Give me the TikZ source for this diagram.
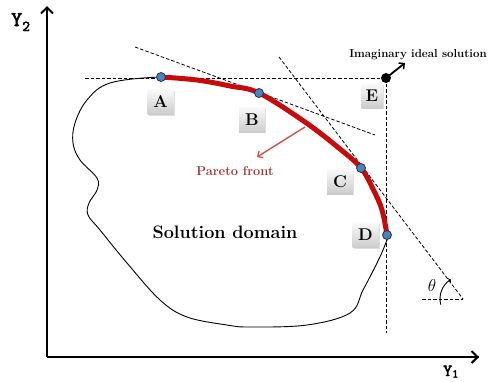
\documentclass[tikz,border=0pt]{standalone}
\usepackage{fontspec}
\newfontfamily\axisfont{lmmono10-regular.otf}[FakeBold=2.5]
\usetikzlibrary{arrows.meta,shadows}
\definecolor{frontred}{RGB}{200,10,10}
\definecolor{paretored}{RGB}{170,50,50}
\definecolor{arrowred}{RGB}{210,80,80}
\definecolor{dotfill}{RGB}{79,129,189}
\definecolor{dotdraw}{RGB}{30,50,90}
\begin{document}
\begin{tikzpicture}[x=1pt,y=-1pt,
  axisline/.style={line width=2.2pt,-{Straight Barb[length=6pt,width=12pt,line width=2pt]}},
  guideline/.style={line width=0.8pt,dash pattern=on 3.5pt off 2pt},
  ptdot/.style={circle,draw=dotdraw,fill=dotfill,line width=0.8pt,minimum size=9pt,inner sep=0pt},
  lbl/.style={font=\fontsize{17}{17}\selectfont\bfseries,top color=gray!4,bottom color=gray!40,
    minimum width=26pt,minimum height=25pt,inner sep=0pt,
    drop shadow={shadow xshift=1pt,shadow yshift=-1.2pt,opacity=0.25}},
  boldtext/.style={font=\bfseries,inner sep=0pt}
]
\useasboundingbox (0,0) rectangle (489,381);

% axes
\coordinate (O) at (47,357);
\coordinate (Ytop) at (47,6);
\coordinate (Xend) at (479,357);
\draw[line width=2.2pt] (O) -- (Xend);
\draw[axisline] (O) -- (Ytop);
\draw[axisline] (O) -- (Xend);
\node[anchor=base west,inner sep=0pt] (ylab) at (11,26) {\axisfont\fontsize{21}{21}\selectfont Y\raisebox{-5pt}{\fontsize{15}{15}\selectfont 2}};
\node[anchor=base west,inner sep=0pt] (xlab) at (443,376) {\axisfont\fontsize{17}{17}\selectfont Y\raisebox{-1.5pt}{\fontsize{12}{12}\selectfont 1}};

% domain boundary
\draw[line width=0.9pt] plot[smooth cycle,tension=0.6] coordinates {
 (161,77) (197,80) (230,86) (259,93) (305,122) (340,149) (361,168) (373,189) (382,210) (387,235)
 (385,245) (377,263) (363,290) (350,313) (307,325) (250,327) (227,325) (187,317) (160,300)
 (127,263) (100,230) (88,215) (89,203) (97,190) (97,178) (80,160) (73,143) (75,123) (87,100) (110,83)};

% key points
\coordinate (A) at (161,77);
\coordinate (B) at (259,93);
\coordinate (C) at (361,168);
\coordinate (D) at (387,235);
\coordinate (E) at (386,78);

% guide lines
\coordinate (Hleft) at (85,78);
\coordinate (Vbot) at (386,333);
\coordinate (TBs) at (135,47);
\coordinate (TBe) at (375,135);
\coordinate (TCs) at (279,57);
\coordinate (T) at (463,299);
\coordinate (Tleft) at (422,299);
\draw[guideline] (Hleft) -- (E);
\draw[guideline] (E) -- (Vbot);
\draw[guideline] (TBs) -- (TBe);
\draw[guideline] (TCs) -- (T);
\draw[guideline] (Tleft) -- (T);
\draw[line width=0.9pt,-{Straight Barb[length=2pt,width=6pt]}] (T) ++(166:23) arc[start angle=166,end angle=238,radius=23];
\node (theta) at (432,285) {\fontsize{16}{16}\selectfont$\theta$};

% Pareto front
\draw[frontred,line width=5pt,line cap=round] plot[smooth,tension=0.6] coordinates {
 (161,77) (197,80) (230,86) (259,93) (305,122) (340,149) (361,168) (373,189) (382,210) (387,235)};

% points
\node[ptdot] (pA) at (A) {};
\node[ptdot] (pB) at (B) {};
\node[ptdot] (pC) at (C) {};
\node[ptdot] (pD) at (D) {};
\node[circle,fill=black,minimum size=10pt,inner sep=0pt] (pE) at (E) {};

% labels
\node[lbl] (lA) at (160.5,102) {A};
\node[lbl] (lB) at (252,119.5) {B};
\node[lbl] (lC) at (340,181.5) {C};
\node[lbl] (lD) at (365.5,235) {D};
\node[lbl,minimum width=21pt,minimum height=24pt] (lE) at (372,96) {E};

% texts
\node[boldtext,anchor=base,font=\fontsize{11.5}{12}\selectfont\bfseries] (ideal) at (418,57) {Imaginary ideal solution};
\coordinate (Earr) at (405,63);
\draw[line width=1.8pt,-{Straight Barb[length=4pt,width=8pt,line width=1.5pt]}] (pE.center) -- (Earr);

\node[boldtext,anchor=base,font=\fontsize{18}{18}\selectfont\bfseries] (domain) at (225,238.5) {Solution domain};

\node[boldtext,anchor=base,text=paretored,font=\fontsize{12.8}{13}\selectfont\bfseries] (pareto) at (235,175) {Pareto front};
\coordinate (Pfrom) at (305,127);
\coordinate (Pto) at (257,157);
\draw[arrowred,line width=1.4pt,-{Straight Barb[length=4pt,width=8pt,line width=1.3pt]}] (Pfrom) -- (Pto);
\end{tikzpicture}
\end{document}
